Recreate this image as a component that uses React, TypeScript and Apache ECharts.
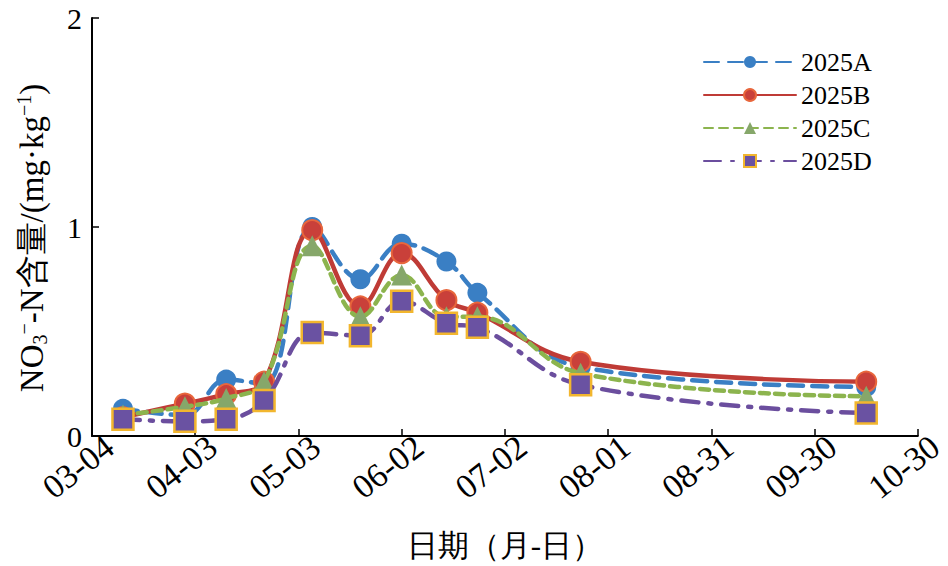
import React, { useEffect, useRef } from "react";
import * as echarts from "echarts";

const tickLabels = ["03-04", "04-03", "05-03", "06-02", "07-02", "08-01", "08-31", "09-30", "10-30"];
// sampling days counted from 03-04
const sampleDays = [9, 27, 39, 50, 64, 78, 90, 103, 112, 142, 225];
const seriesNames = ["2025A", "2025B", "2025C", "2025D"];
const valuesA = [0.13, 0.1, 0.27, 0.25, 1.0, 0.75, 0.92, 0.835, 0.685, 0.33, 0.235];
const valuesB = [0.09, 0.155, 0.2, 0.26, 0.985, 0.62, 0.875, 0.65, 0.59, 0.355, 0.26];
const valuesC = [0.1, 0.14, 0.18, 0.26, 0.91, 0.57, 0.77, 0.57, 0.57, 0.3, 0.19];
const valuesD = [0.08, 0.07, 0.08, 0.17, 0.495, 0.48, 0.645, 0.54, 0.52, 0.245, 0.11];

const SERIF = "Liberation Serif";

export default function App() {
  const ref = useRef<HTMLDivElement>(null);
  useEffect(() => {
    if (!ref.current) return;
    const chart = echarts.init(ref.current, undefined, { renderer: "svg" });
    const pts = (vals: number[]) => sampleDays.map((d, i) => [d, vals[i]]);
    const styles = [
      { color: "#3a7fc4", type: [15, 9], symbol: "circle", size: 20, border: "#3a7fc4", bw: 0, fill: "#3a7fc4" },
      { color: "#bf3b36", type: "solid", symbol: "circle", size: 20, border: "#e8663c", bw: 2, fill: "#c9403a" },
      { color: "#8cb44e", type: [9, 6], symbol: "triangle", size: 21, border: "#8cb44e", bw: 0, fill: "#86a76a" },
      { color: "#6b4e9e", type: [17, 10, 3, 10], symbol: "rect", size: 21, border: "#f2b62e", bw: 2.5, fill: "#6a52a2" },
    ];
    const allVals = [valuesA, valuesB, valuesC, valuesD];
    chart.setOption({
      animation: false,
      grid: { left: 92, right: 28, top: 18, bottom: 129 },
      legend: {
        orient: "vertical",
        left: 698,
        top: 44,
        itemWidth: 92,
        itemHeight: 15,
        itemGap: 7,
        textStyle: { fontFamily: SERIF, fontSize: 26, lineHeight: 26, color: "#000" },
        data: seriesNames,
      },
      xAxis: {
        type: "value",
        min: 0,
        max: 240,
        interval: 30,
        name: "日期（月-日）",
        nameLocation: "middle",
        nameGap: 94,
        nameTextStyle: { fontFamily: SERIF, fontSize: 31, color: "#000" },
        axisLine: { lineStyle: { color: "#000", width: 2 } },
        axisTick: { inside: true, length: 7, lineStyle: { color: "#000", width: 1.5 } },
        splitLine: { show: false },
        axisLabel: {
          rotate: 38,
          margin: 20,
          padding: [0, -22, 0, 0],
          fontFamily: SERIF,
          fontSize: 34,
          color: "#000",
          formatter: (v: number) => tickLabels[Math.round(v / 30)] ?? "",
        },
      },
      yAxis: {
        type: "value",
        min: 0,
        max: 2,
        interval: 1,
        name: "{t|NO}{sub|3}{sup|−}{t|-N含量/(mg·kg}{sup|−1}{t|)}",
        nameLocation: "middle",
        nameGap: 42,
        nameTextStyle: {
          fontFamily: SERIF,
          fontSize: 33,
          color: "#000",
          padding: [0, 22, 0, 0],
          rich: {
            t: { fontFamily: SERIF, fontSize: 33, lineHeight: 36, color: "#000" },
            sub: { fontFamily: SERIF, fontSize: 20, lineHeight: 16, verticalAlign: "bottom", color: "#000" },
            sup: { fontFamily: SERIF, fontSize: 20, lineHeight: 16, verticalAlign: "top", color: "#000" },
          },
        },
        axisLine: { show: true, lineStyle: { color: "#000", width: 2 } },
        axisTick: { show: true, inside: true, length: 7, lineStyle: { color: "#000", width: 1.5 } },
        splitLine: { show: false },
        axisLabel: { fontFamily: SERIF, fontSize: 30, color: "#000", margin: 10 },
      },
      series: seriesNames.map((name, i) => ({
        name,
        type: "line",
        smooth: 0.4,
        data: pts(allVals[i]),
        symbol: styles[i].symbol,
        symbolSize: styles[i].size,
        z: 2 + i,
        lineStyle: { color: styles[i].color, width: 4.5, type: styles[i].type, cap: "round" },
        itemStyle: { color: styles[i].fill, borderColor: styles[i].border, borderWidth: styles[i].bw },
      })),
    });
    return () => chart.dispose();
  }, []);
  return <div ref={ref} style={{ position: "absolute", left: 0, top: 0, width: 948, height: 566 }} />;
}
